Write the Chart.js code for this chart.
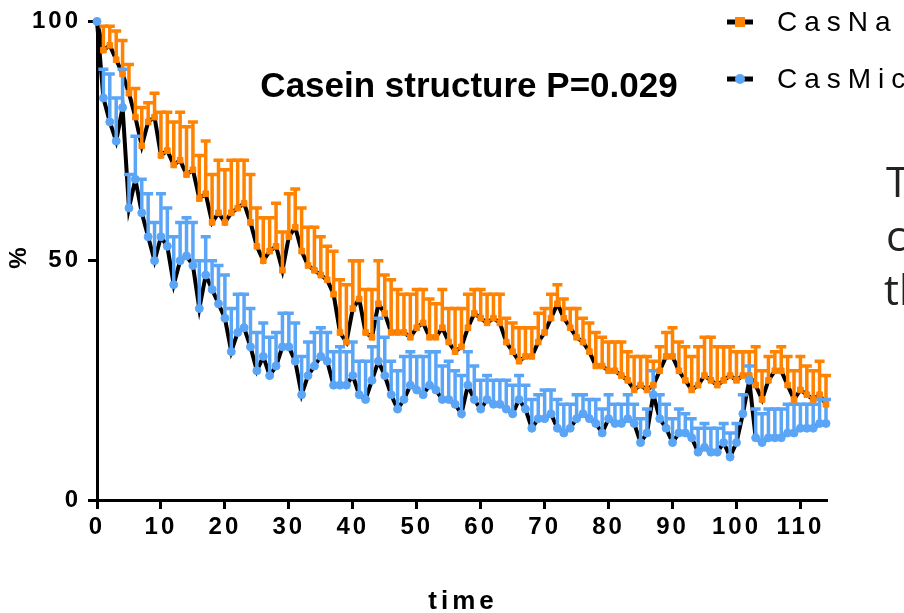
<!DOCTYPE html>
<html>
<head>
<meta charset="utf-8">
<script src="https://cdn.jsdelivr.net/npm/chart.js@4.4.0/dist/chart.umd.min.js"></script>
<style>
  html, body { margin: 0; padding: 0; background: #fff; }
  #wrap { position: relative; width: 904px; height: 613px; overflow: hidden; }
  .side { position: absolute; left: 886px; font-family: 'Open Sans', sans-serif; font-size: 42px; line-height: 54px; color: #222; white-space: nowrap; }
</style>
</head>
<body>
<div id="wrap">
  <canvas id="chart" width="904" height="613"></canvas>
  <div class="side" style="top:154px">T</div>
  <div class="side" style="top:208px">c</div>
  <div class="side" style="top:262px;left:884px">th</div>
</div>
<script>
var times = [0, 1, 2, 3, 4, 5, 6, 7, 8, 9,
    10, 11, 12, 13, 14, 15, 16, 17, 18, 19,
    20, 21, 22, 23, 24, 25, 26, 27, 28, 29,
    30, 31, 32, 33, 34, 35, 36, 37, 38, 39,
    40, 41, 42, 43, 44, 45, 46, 47, 48, 49,
    50, 51, 52, 53, 54, 55, 56, 57, 58, 59,
    60, 61, 62, 63, 64, 65, 66, 67, 68, 69,
    70, 71, 72, 73, 74, 75, 76, 77, 78, 79,
    80, 81, 82, 83, 84, 85, 86, 87, 88, 89,
    90, 91, 92, 93, 94, 95, 96, 97, 98, 99,
    100, 101, 102, 103, 104, 105, 106, 107, 108, 109,
    110, 111, 112, 113, 114];

// CasNa mean and upper error
var casNa = [100, 94, 95, 92, 89, 85, 80, 74, 79, 80,
    72, 73, 70, 71, 68, 69, 63, 64, 58, 60,
    58, 60, 61, 62, 58, 53, 50, 52, 53, 48,
    55, 57, 52, 49, 48, 47, 46, 43, 35, 33,
    40, 42, 35, 34, 41, 39, 35, 35, 35, 34,
    36, 37, 34, 34, 36, 33, 31, 32, 36, 39,
    38, 37, 38, 37, 33, 31, 29, 30, 30, 33,
    35, 38, 41, 38, 36, 34, 33, 31, 28, 28,
    27, 27, 26, 25, 23, 24, 23, 24, 27, 30,
    30, 27, 25, 23, 24, 26, 25, 24, 25, 26,
    25, 26, 26, 24, 21, 25, 27, 27, 24, 21,
    23, 22, 21, 22, 20];
var casNaErr = [0, 5, 4, 6, 7, 6, 6, 8, 4, 5,
    9, 8, 9, 10, 10, 10, 9, 11, 10, 11,
    11, 11, 10, 9, 10, 8, 9, 7, 9, 8,
    9, 8, 9, 8, 9, 8, 7, 9, 11, 12,
    10, 8, 9, 10, 9, 8, 11, 9, 8, 9,
    8, 7, 8, 7, 8, 7, 9, 8, 7, 5,
    6, 6, 5, 6, 5, 6, 7, 6, 6, 6,
    5, 5, 4, 4, 4, 6, 5, 6, 7, 6,
    6, 6, 7, 6, 7, 6, 7, 5, 5, 5,
    6, 6, 7, 7, 8, 8, 9, 8, 7, 6,
    6, 5, 5, 8, 6, 5, 4, 5, 6, 6,
    7, 6, 6, 7, 6];

// CasMic mean and upper error
var casMic = [100, 84, 79, 75, 82, 61, 67, 60, 55, 50,
    55, 53, 45, 50, 51, 49, 40, 47, 44, 41,
    38, 31, 35, 36, 32, 27, 30, 26, 28, 32,
    32, 29, 22, 26, 28, 30, 29, 24, 24, 24,
    26, 22, 21, 25, 29, 26, 22, 19, 21, 24,
    23, 22, 24, 23, 21, 21, 20, 18, 24, 21,
    19, 21, 20, 20, 19, 18, 21, 19, 15, 17,
    17, 18, 15, 14, 15, 17, 18, 17, 16, 14,
    17, 16, 16, 17, 16, 12, 14, 22, 17, 15,
    12, 14, 14, 13, 10, 11, 10, 10, 12, 9,
    12, 18, 25, 13, 12, 13, 13, 13, 14, 14,
    15, 15, 15, 16, 16];
var casMicErr = [0, 6, 10, 9, 8, 7, 9, 7, 9, 8,
    9, 8, 10, 8, 8, 9, 10, 8, 6, 8,
    9, 9, 8, 7, 8, 8, 7, 8, 7, 7,
    7, 8, 8, 7, 7, 6, 6, 7, 8, 7,
    7, 7, 8, 7, 9, 8, 7, 8, 9, 7,
    7, 8, 7, 8, 7, 8, 7, 8, 7, 7,
    6, 5, 5, 5, 6, 6, 5, 5, 6, 5,
    6, 5, 6, 6, 5, 5, 4, 4, 5, 5,
    5, 4, 4, 5, 4, 5, 5, 5, 5, 5,
    5, 5, 4, 4, 5, 5, 5, 5, 4, 5,
    4, 4, 3, 6, 6, 6, 6, 6, 6, 6,
    5, 5, 5, 5, 5];

var orange = '#ff8200';
var blue = '#5ba5f7';

function toPoints(vals) {
    return times.map(function(t, i) { return { x: t, y: vals[i] }; });
}

// upper error bars, drawn right after each black line
var errorBars = {
    id: 'errorBars',
    afterDatasetDraw: function(chart, args) {
        var ds = chart.data.datasets[args.index];
        if (!ds.errors) return;
        var xs = chart.scales.x, ys = chart.scales.y, ctx = chart.ctx;
        ctx.save();
        ctx.strokeStyle = ds.errColor;
        ctx.lineWidth = 3.5;
        ds.data.forEach(function(p, i) {
            var e = ds.errors[i];
            if (!e) return;
            var px = xs.getPixelForValue(p.x);
            var y0 = ys.getPixelForValue(p.y);
            var y1 = ys.getPixelForValue(p.y + e);
            ctx.beginPath();
            ctx.moveTo(px, y0);
            ctx.lineTo(px, y1);
            ctx.moveTo(px - 5, y1);
            ctx.lineTo(px + 5, y1);
            ctx.stroke();
        });
        ctx.restore();
    }
};

// titles and legend
var labels = {
    id: 'labels',
    beforeDraw: function(chart) {
        chart.ctx.letterSpacing = '3px';
    },
    afterDraw: function(chart) {
        var ctx = chart.ctx;
        ctx.save();
        ctx.fillStyle = '#000';
        ctx.letterSpacing = '0px';
        ctx.font = 'bold 35px "Liberation Sans"';
        ctx.textAlign = 'center';
        ctx.textBaseline = 'alphabetic';
        ctx.fillText('Casein structure P=0.029', 469, 97);

        ctx.letterSpacing = '4px';
        ctx.font = 'bold 26px "Liberation Sans"';
        ctx.fillText('time', 463, 609);

        ctx.save();
        ctx.translate(19, 258);
        ctx.rotate(-Math.PI / 2);
        ctx.letterSpacing = '0px';
        ctx.font = 'bold 24px "Liberation Sans"';
        ctx.textBaseline = 'middle';
        ctx.fillText('%', 0, 0);
        ctx.restore();

        var items = [
            { text: 'CasNa', y: 22, color: orange, shape: 'rect' },
            { text: 'CasMic', y: 79, color: blue, shape: 'circle' }
        ];
        items.forEach(function(it) {
            ctx.strokeStyle = '#000';
            ctx.lineWidth = 5;
            ctx.beginPath();
            ctx.moveTo(727, it.y);
            ctx.lineTo(753, it.y);
            ctx.stroke();
            ctx.fillStyle = it.color;
            if (it.shape === 'rect') {
                ctx.fillRect(735, it.y - 5, 10, 10);
            } else {
                ctx.beginPath();
                ctx.arc(740, it.y, 5, 0, Math.PI * 2);
                ctx.fill();
            }
            ctx.fillStyle = '#000';
            ctx.letterSpacing = '7px';
            ctx.font = '28px "Liberation Sans"';
            ctx.textAlign = 'left';
            ctx.textBaseline = 'middle';
            ctx.fillText(it.text, 777, it.y + 1);
        });
        ctx.restore();
    }
};

var tickFont = { family: 'Liberation Sans', size: 24, weight: 'bold' };
var axisGrid = { display: true, drawOnChartArea: false, drawTicks: true, tickLength: 9, lineWidth: 3, color: '#000' };
var axisBorder = { display: true, color: '#000', width: 3 };

var ctx = document.getElementById('chart');
var chart = new Chart(ctx, {
    type: 'line',
    data: {
        datasets: [{
            label: 'CasNa line',
            data: toPoints(casNa),
            borderColor: '#000',
            borderWidth: 4,
            pointRadius: 0,
            fill: false,
            order: 4,
            clip: false,
            errors: casNaErr,
            errColor: orange
        }, {
            label: 'CasMic line',
            data: toPoints(casMic),
            borderColor: '#000',
            borderWidth: 4,
            pointRadius: 0,
            fill: false,
            order: 3,
            clip: false,
            errors: casMicErr,
            errColor: blue
        }, {
            label: 'CasNa',
            data: toPoints(casNa),
            showLine: false,
            pointStyle: 'rect',
            pointRadius: 4,
            backgroundColor: orange,
            borderColor: orange,
            borderWidth: 1,
            order: 2,
            clip: false
        }, {
            label: 'CasMic',
            data: toPoints(casMic),
            showLine: false,
            pointStyle: 'circle',
            pointRadius: 4,
            backgroundColor: blue,
            borderColor: blue,
            borderWidth: 1,
            order: 1,
            clip: false
        }]
    },
    options: {
        responsive: false,
        animation: false,
        devicePixelRatio: 1,
        layout: { padding: { top: 17, right: 78, left: 0, bottom: 0 } },
        plugins: {
            legend: { display: false },
            tooltip: { enabled: false }
        },
        scales: {
            x: {
                type: 'linear',
                min: 0,
                max: 114,
                ticks: { stepSize: 10, autoSkip: false, includeBounds: false, maxRotation: 0, color: '#000', font: tickFont, padding: 4 },
                grid: axisGrid,
                border: axisBorder,
                afterFit: function(s) { s.height = 113; }
            },
            y: {
                min: 0,
                max: 100,
                ticks: { stepSize: 50, color: '#000', font: tickFont, padding: 7 },
                grid: axisGrid,
                border: axisBorder,
                afterFit: function(s) { s.width = 97; }
            }
        }
    },
    plugins: [errorBars, labels]
});
</script>
</body>
</html>
